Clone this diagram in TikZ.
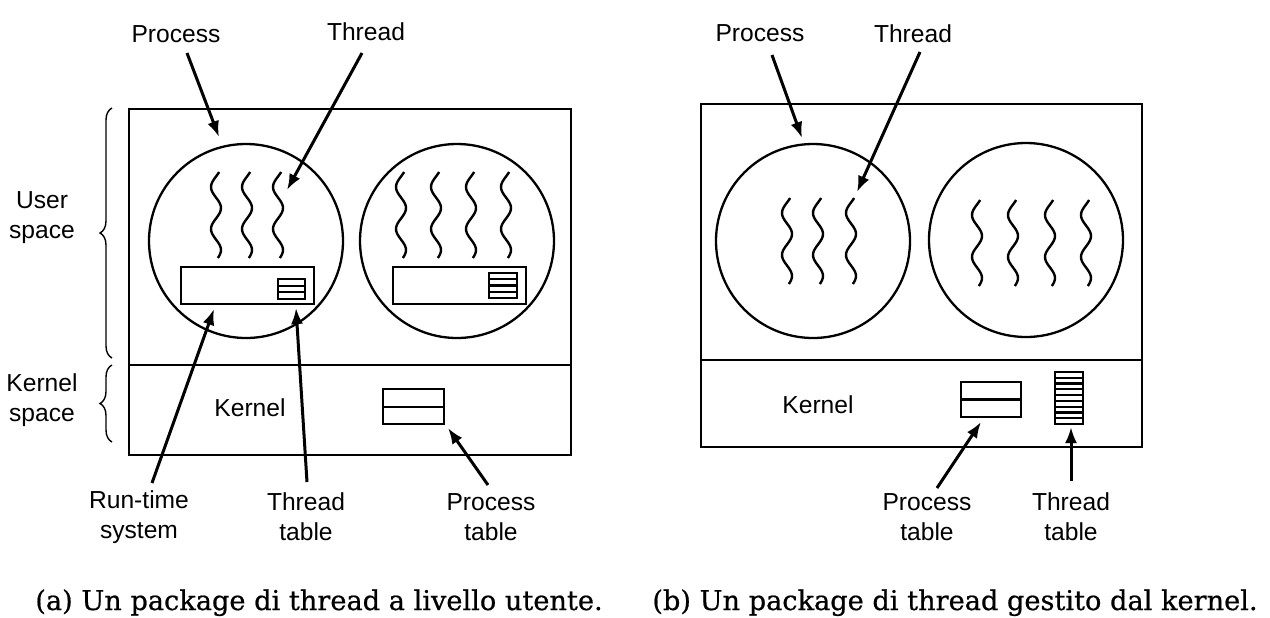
\documentclass[tikz,border=0pt]{standalone}
\usepackage{fontspec}
\setmainfont{DejaVu Serif}
\newfontfamily\capfont{DejaVu Serif}[FakeBold=0.7]
\setsansfont{Liberation Sans}
\usetikzlibrary{arrows.meta,decorations.pathreplacing,calc}

\tikzset{
  lbl/.style={font=\sffamily\fontsize{12.3}{15}\selectfont, align=center, inner sep=0pt},
  captxt/.style={font=\capfont\fontsize{13.6}{16}\selectfont, inner sep=0pt, anchor=base},
  ptr/.style={line width=1.5pt, -{Latex[length=8pt,width=6pt]}},
  frame/.style={line width=1.15pt},
  thr/.style={line width=1.2pt},
  brc/.style={line width=0.7pt, decorate, decoration={brace, amplitude=6pt}},
}

% one wavy thread, top at (#1,#2)
\newcommand{\thread}[2]{%
  \draw[thr] plot[smooth, domain=0:86, samples=45, variable=\t]
    ({#1-5*cos((\t-15)*8.5714)}, {#2+\t});}

\begin{document}
\begin{tikzpicture}[x=0.5pt,y=-0.5pt]
\useasboundingbox (0,0) rectangle (1270,617);

%%% (a) threads in user space
\draw[frame] (129,109) rectangle (571,455);
\draw[frame] (129,365) -- (571,365);
\draw[frame] (246,241) circle (97);
\draw[frame] (457,241) circle (97);

\foreach \tx in {216,247,278} \thread{\tx}{172};
\foreach \tx in {401,436,471,506} \thread{\tx}{172};

% run-time systems with their thread tables
\draw[frame] (181,267) rectangle (314,304);
\draw[frame] (278,279) rectangle (305,299);
\foreach \y in {285.7,292.3} \draw[frame] (278,\y) -- (305,\y);
\draw[frame] (393,267) rectangle (526,304);
\draw[frame] (489,273) rectangle (517,298);
\foreach \y in {279.25,285.5,291.75} \draw[frame] (489,\y) -- (517,\y);

% kernel
\node[lbl] (kernA) at (250,408) {Kernel};
\draw[frame] (383,389) rectangle (444,424);
\draw[frame] (383,407) -- (444,407);

% braces
\draw[brc] (112,358) -- (112,108);
\draw[brc] (112,442) -- (112,365);
\node[lbl] (usr) at (42,218) {User\\space};
\node[lbl] (ksp) at (42,400) {Kernel\\space};

% labels and pointers
\node[lbl] (procA) at (176,34) {Process};
\node[lbl] (thrA) at (366,32) {Thread};
\node[lbl] (rtsA) at (139,517) {Run-time\\system};
\node[lbl] (ttA) at (306,517) {Thread\\table};
\node[lbl] (ptA) at (491,517) {Process\\table};

\coordinate (procAtip) at (219,137);
\coordinate (thrAtip) at (287,190);
\coordinate (rtsAtip) at (214,309);
\coordinate (ttAtip) at (296,308);
\coordinate (ptAtip) at (448,428);

\draw[ptr] ($(procA)+(11,19)$) -- (procAtip);
\draw[ptr] ($(thrA)+(-4,21)$) -- (thrAtip);
\draw[ptr] ($(rtsA)+(13,-34)$) -- (rtsAtip);
\draw[ptr] ($(ttA)+(1,-35)$) -- (ttAtip);
\draw[ptr] ($(ptA)+(-3,-32)$) -- (ptAtip);

%%% (b) threads managed by the kernel
\draw[frame] (701,104) rectangle (1142,447);
\draw[frame] (701,360) -- (1142,360);
\draw[frame] (813,241) circle (97);
\draw[frame] (1026,240) circle (97);

\foreach \tx in {787,818,851} \thread{\tx}{198};
\foreach \tx in {977,1013,1050,1086} \thread{\tx}{200};

\node[lbl] (kernB) at (818,405) {Kernel};
\draw[frame] (961,382) rectangle (1021,417);
\draw[frame] (961,399.5) -- (1021,399.5);
\draw[frame] (1055,372) rectangle (1083,424);
\foreach \i in {1,...,8} \draw[frame] (1055,{372+\i*52/9}) -- (1083,{372+\i*52/9});

\node[lbl] (procB) at (760,33) {Process};
\node[lbl] (thrB) at (913,34) {Thread};
\node[lbl] (ptB) at (927,517) {Process\\table};
\node[lbl] (ttB) at (1071,517) {Thread\\table};

\coordinate (procBtip) at (802,138);
\coordinate (thrBtip) at (857,192);
\coordinate (ptBtip) at (981,422);
\coordinate (ttBtip) at (1071,427);

\draw[ptr] ($(procB)+(12,22)$) -- (procBtip);
\draw[ptr] ($(thrB)+(7,18)$) -- (thrBtip);
\draw[ptr] ($(ptB)+(10,-29)$) -- (ptBtip);
\draw[ptr] ($(ttB)+(0,-36)$) -- (ttBtip);

%%% captions
\node[captxt] (capA) at (319,610) {(a) Un package di thread a livello utente.};
\node[captxt] (capB) at (955,610) {(b) Un package di thread gestito dal kernel.};

\end{tikzpicture}
\end{document}
